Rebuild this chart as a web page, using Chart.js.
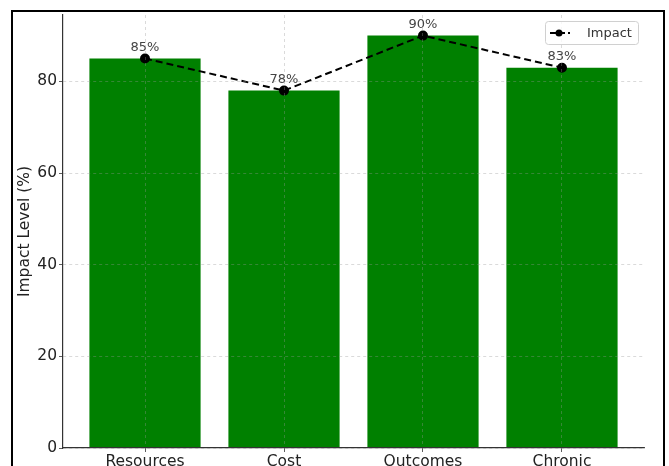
<!DOCTYPE html>
<html lang="en">
<head>
    <meta charset="UTF-8">
    <title>Impact Level</title>
    <script src="https://cdn.jsdelivr.net/npm/chart.js@4.4.1/dist/chart.umd.min.js"></script>
    <style>
        * {
            margin: 0;
            padding: 0;
            box-sizing: border-box;
        }

        body {
            width: 669px;
            height: 466px;
            overflow: hidden;
            background: #fff;
            position: relative;
        }

        /* thin black frame around the figure */
        .frame {
            position: absolute;
            left: 11px;
            top: 10px;
            width: 654px;
            height: 480px;
            border: 2px solid #000;
            pointer-events: none;
        }

        #impactChart {
            position: absolute;
            left: 0;
            top: 0;
        }
    </style>
</head>
<body>
    <canvas id="impactChart" width="669" height="500"></canvas>
    <div class="frame"></div>

    <script>
        // Chart data
        const categories = ['Resources', 'Cost', 'Outcomes', 'Chronic'];
        const impactValues = [85, 78, 90, 83];
        const yTicks = [0, 20, 40, 60, 80];
        const yMax = 94.5;

        const FONT = "'DejaVu Sans', sans-serif";

        // Percentage labels above each line point
        const valueLabels = {
            id: 'valueLabels',
            afterDatasetsDraw(chart) {
                const ctx = chart.ctx;
                const meta = chart.getDatasetMeta(1);
                ctx.save();
                ctx.font = '13px ' + FONT;
                ctx.fillStyle = '#444';
                ctx.textAlign = 'center';
                ctx.textBaseline = 'middle';
                meta.data.forEach((pt, i) => {
                    ctx.fillText(impactValues[i] + '%', pt.x, pt.y - 11);
                });
                ctx.restore();
            }
        };

        // Legend box in the upper right corner
        const cornerLegend = {
            id: 'cornerLegend',
            afterDraw(chart) {
                const ctx = chart.ctx;
                const x = 545, y = 21, w = 93, h = 23;
                ctx.save();
                ctx.fillStyle = 'rgba(255,255,255,0.8)';
                ctx.strokeStyle = '#d0d0d0';
                ctx.lineWidth = 1;
                ctx.beginPath();
                ctx.roundRect(x + 0.5, y + 0.5, w, h, 3);
                ctx.fill();
                ctx.stroke();

                const cy = y + h / 2 + 0.5;
                ctx.strokeStyle = '#000';
                ctx.lineWidth = 2;
                ctx.setLineDash([6, 3]);
                ctx.beginPath();
                ctx.moveTo(x + 5, cy);
                ctx.lineTo(x + 25, cy);
                ctx.stroke();
                ctx.setLineDash([]);
                ctx.fillStyle = '#000';
                ctx.beginPath();
                ctx.arc(x + 14, cy, 3.5, 0, Math.PI * 2);
                ctx.fill();

                ctx.font = '13px ' + FONT;
                ctx.fillStyle = '#333';
                ctx.textAlign = 'left';
                ctx.textBaseline = 'middle';
                ctx.fillText(chart.data.datasets[1].label, x + 42, cy + 1);
                ctx.restore();
            }
        };

        new Chart(document.getElementById('impactChart'), {
            type: 'bar',
            data: {
                datasets: [
                    {
                        label: 'Impact Level',
                        data: impactValues.map((v, i) => ({ x: i, y: v })),
                        backgroundColor: '#008000',
                        borderWidth: 0,
                        categoryPercentage: 1.0,
                        barPercentage: 0.8,
                        order: 2
                    },
                    {
                        type: 'line',
                        label: 'Impact',
                        data: impactValues.map((v, i) => ({ x: i, y: v })),
                        borderColor: '#000',
                        borderWidth: 2,
                        borderDash: [7, 4],
                        pointBackgroundColor: '#000',
                        pointBorderColor: '#000',
                        pointRadius: 4,
                        fill: false,
                        tension: 0,
                        order: 1
                    }
                ]
            },
            options: {
                responsive: false,
                animation: false,
                devicePixelRatio: 1,
                layout: {
                    padding: { top: 15, right: 25, left: 0, bottom: 0 }
                },
                plugins: {
                    legend: { display: false },
                    tooltip: { enabled: false }
                },
                scales: {
                    x: {
                        type: 'linear',
                        min: -0.59,
                        max: 3.59,
                        offset: false,
                        afterBuildTicks: s => { s.ticks = categories.map((c, i) => ({ value: i })); },
                        afterFit: s => { s.height = 52; },
                        ticks: {
                            callback: v => categories[v],
                            font: { family: FONT, size: 15.5 },
                            color: '#222',
                            padding: 1,
                            maxRotation: 0
                        },
                        grid: {
                            offset: false,
                            color: 'rgba(150,150,150,0.45)',
                            lineWidth: 0.8,
                            tickColor: '#333',
                            tickLength: 4,
                            z: 1
                        },
                        border: { color: '#333', width: 1.2, dash: [3, 3], z: 1 }
                    },
                    y: {
                        min: 0,
                        max: yMax,
                        afterBuildTicks: s => { s.ticks = yTicks.map(v => ({ value: v })); },
                        afterFit: s => { s.width = 63; },
                        ticks: {
                            font: { family: FONT, size: 15.5 },
                            color: '#222',
                            padding: 2
                        },
                        grid: {
                            color: 'rgba(150,150,150,0.45)',
                            lineWidth: 0.8,
                            tickColor: '#333',
                            tickLength: 4,
                            z: 1
                        },
                        border: { color: '#333', width: 1.2, dash: [3, 3], z: 1 },
                        title: {
                            display: true,
                            text: 'Impact Level (%)',
                            font: { family: FONT, size: 15.5 },
                            color: '#222',
                            padding: { top: 16, bottom: 0 }
                        }
                    }
                }
            },
            plugins: [valueLabels, cornerLegend]
        });
    </script>
</body>
</html>
